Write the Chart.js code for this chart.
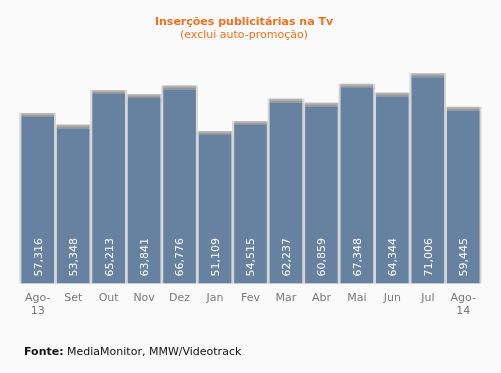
<!DOCTYPE html>
<html>
<head>
<meta charset="utf-8">
<script src="https://cdn.jsdelivr.net/npm/chart.js@4/dist/chart.umd.min.js"></script>
<style>
  html, body { margin: 0; padding: 0; background: #fafafa; }
  #wrap { position: relative; width: 501px; height: 373px; font-family: "DejaVu Sans", Verdana, sans-serif; }
  .head {
    position: absolute; left: 0; width: 488px; text-align: center;
    font-size: 11px; line-height: 13px; color: #f5701d;
  }
  #title { top: 15px; font-weight: bold; }
  #subtitle { top: 28px; }
  #footer {
    position: absolute; left: 24px; top: 345px;
    font-size: 11px; color: #111;
  }
</style>
</head>
<body>
<div id="wrap">
  <canvas id="insChart" width="501" height="373"></canvas>
  <div class="head" id="title">Inserções publicitárias na Tv</div>
  <div class="head" id="subtitle">(exclui auto-promoção)</div>
  <div id="footer"><b>Fonte:</b> MediaMonitor, MMW/Videotrack</div>
</div>
<script>
const months = [['Ago-', '13'], 'Set', 'Out', 'Nov', 'Dez', 'Jan', 'Fev', 'Mar', 'Abr', 'Mai', 'Jun', 'Jul', ['Ago-', '14']];
const insercoes = [57316, 53348, 65213, 63841, 66776, 51109, 54515, 62237, 60859, 67348, 64344, 71006, 59445];

// gray frame + darker cap behind each bar
const barShade = {
    id: 'barShade',
    beforeDatasetsDraw(chart) {
        const ctx = chart.ctx;
        chart.getDatasetMeta(0).data.forEach(bar => {
            const left = bar.x - bar.width / 2;
            ctx.save();
            ctx.fillStyle = '#d6d6d6';
            ctx.fillRect(left - 2, bar.y - 4, bar.width + 4, bar.base - bar.y + 4);
            const g = ctx.createLinearGradient(0, bar.y - 4, 0, bar.y);
            g.addColorStop(0, '#c4c4c4');
            g.addColorStop(1, '#8a8a8a');
            ctx.fillStyle = g;
            ctx.fillRect(left, bar.y - 4, bar.width, 4);
            ctx.restore();
        });
    }
};

// rotated white value labels at the bottom of each bar
const valueLabels = {
    id: 'valueLabels',
    afterDatasetsDraw(chart) {
        const ctx = chart.ctx;
        const data = chart.data.datasets[0].data;
        chart.getDatasetMeta(0).data.forEach((bar, i) => {
            ctx.save();
            ctx.setTransform(0, -1, 1, 0, bar.x + 1, bar.base - 7);
            ctx.font = '11px "DejaVu Sans", Verdana, sans-serif';
            ctx.fillStyle = '#ffffff';
            ctx.textAlign = 'left';
            ctx.textBaseline = 'middle';
            ctx.fillText(data[i].toLocaleString('en-US'), 0, 0);
            ctx.restore();
        });
    }
};

new Chart(document.getElementById('insChart'), {
    type: 'bar',
    data: {
        labels: months,
        datasets: [{
            data: insercoes,
            backgroundColor: '#6682a0',
            categoryPercentage: 1,
            barPercentage: 0.92
        }]
    },
    options: {
        responsive: false,
        animation: false,
        layout: { padding: { top: 51, left: 20, right: 20, bottom: 47 } },
        scales: {
            x: {
                grid: { display: false, drawTicks: false },
                border: { display: false },
                ticks: {
                    color: '#7a7a7a',
                    padding: 8,
                    maxRotation: 0,
                    autoSkip: false,
                    font: { family: '"DejaVu Sans", Verdana, sans-serif', size: 11 }
                }
            },
            y: { display: false, min: 0, max: 80000 }
        },
        plugins: {
            legend: { display: false },
            tooltip: { enabled: false }
        }
    },
    plugins: [barShade, valueLabels]
});
</script>
</body>
</html>
